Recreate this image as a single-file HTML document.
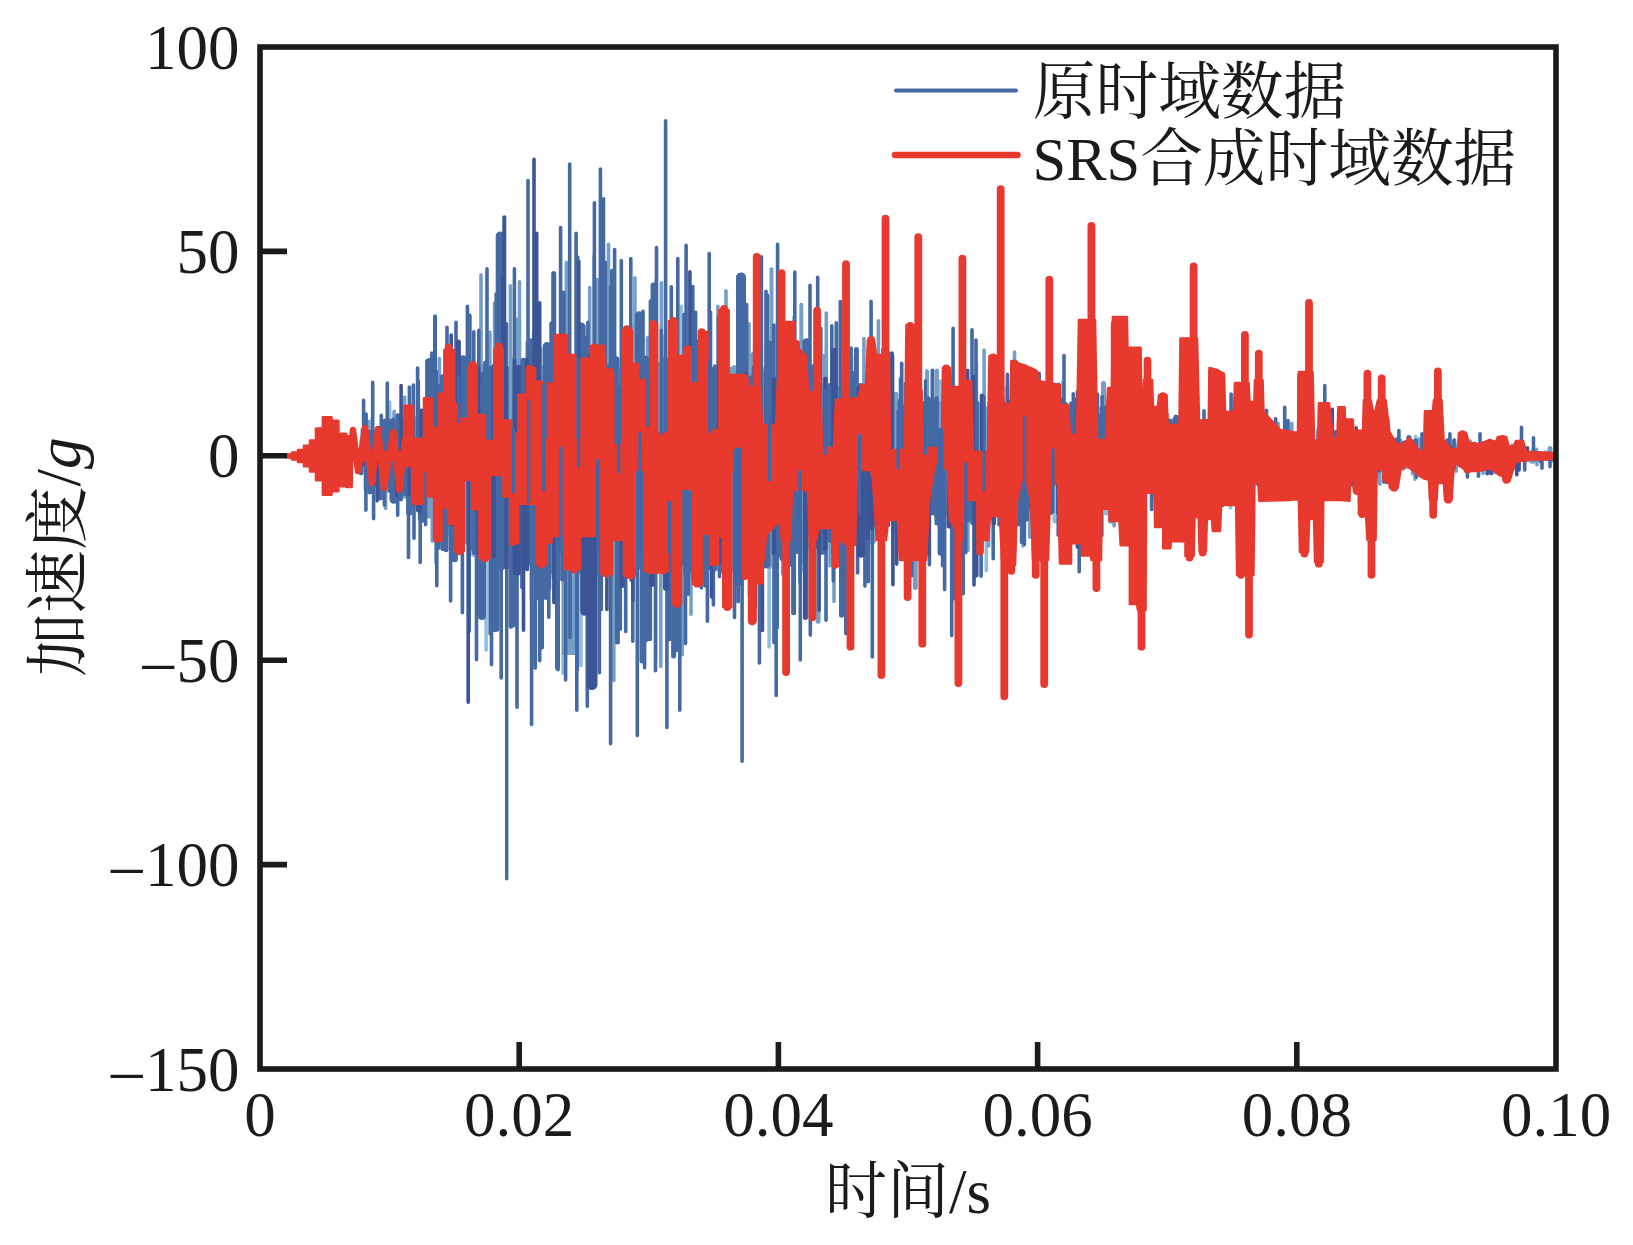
<!DOCTYPE html>
<html lang="zh">
<head>
<meta charset="utf-8">
<title>时域数据对比</title>
<style>
html,body{margin:0;padding:0;background:#fff;}
body{width:1633px;height:1245px;overflow:hidden;}
svg{display:block;}
</style>
</head>
<body>
<svg width="1633" height="1245" viewBox="0 0 1633 1245">
<rect width="1633" height="1245" fill="#fff"/>
<g id="blue">
<path d="M389.6 455.8V402.3M486.1 455.8V650.1M563 455.8V673.5M581 455.8V665.6M655.7 455.8V659.6M664.7 455.8V335.7M681.2 455.8V306.3M769.1 455.8V647M986.3 455.8V570.5M1006.5 455.8V386.5M1017.5 455.8V384.6M1034.6 455.8V544.1M1039.6 455.8V543.5M1062.6 455.8V382.3M1105.5 455.8V401M1162.2 455.8V511M1230.5 455.8V507.8M1330.6 455.8V429.2M1332.5 455.8V489.1M1344 455.8V437.3M1415.7 455.8V436.3M1423.9 455.8V441.9M1512.1 455.8V444.6" stroke="#8fbfe0" stroke-width="3.6" stroke-linecap="round" fill="none"/>
<path d="M380.9 429.5V488M401.2 422.1V492.2M432.2 399.7V507.3M454.9 381.1V535.5M633.8 367.6V576.6M809.9 381.2V547.3M813.6 373.7V556.3M844.8 386.9V543.4M883.8 401.3V528.3M892.3 399.6V519.3M963.9 406.4V515.5M1022.9 396.9V518.4M1054.6 409.4V521.4M1110.6 413.9V504.7M1126.7 418.2V501.9M1159.7 414.3V494.6M1167.5 415V497.8M1195.3 432.1V496.3M1295.4 433.9V474.8M1299 440V472.4M1323.8 434.3V477.7M1339.1 447.9V476.3M1352.1 436.9V469.7M1392 446.7V465.4M1412.3 448.1V459.3M1431.7 440.3V468.7M1482.3 447.5V463.3M1511.4 449.3V458.8" stroke="#8fbfe0" stroke-width="4.4" stroke-linecap="round" fill="none"/>
<path d="M372.8 455.8V487M622.9 455.8V357.9M1010.8 455.8V533.1M1106.4 455.8V513.3M1226.8 455.8V428.1" stroke="#8fbfe0" stroke-width="5" stroke-linecap="round" fill="none"/>
<path d="M1190.7 455.8V502.6M1286.7 455.8V487.1M1408.5 455.8V466.6" stroke="#8fbfe0" stroke-width="6.5" stroke-linecap="round" fill="none"/>
<path d="M474.2 455.8V552.9M723.6 455.8V569.6M802.5 455.8V568.6M940.4 455.8V383.6M1139.2 455.8V501.4" stroke="#8fbfe0" stroke-width="8.5" stroke-linecap="round" fill="none"/>
<path d="M362.2 455.8V429.5M368.6 455.8V421.2M385.6 455.8V508.4M394.1 455.8V411.3M404.7 455.8V397M429.3 455.8V516.2M432.3 455.8V541.3M435.9 455.8V562.4M439.4 455.8V358.6M477.9 455.8V612M481 455.8V274.8M482.7 455.8V365.4M489.9 455.8V332.1M494.6 455.8V303.1M510.4 455.8V285.7M519.5 455.8V281.8M531.5 455.8V599.8M540.5 455.8V348.8M566.4 455.8V262.2M589.7 455.8V287.6M608.5 455.8V244.4M613.8 455.8V680.5M634.5 455.8V325.6M634.9 455.8V277.8M656.2 455.8V279.9M660.8 455.8V666.4M661.4 455.8V282.7M676.8 455.8V361.7M678.1 455.8V615.1M682.2 455.8V654.7M691 455.8V614.2M717.9 455.8V306.2M726 455.8V290.7M749 455.8V323.8M749.5 455.8V596.2M757.5 455.8V315.5M782.6 455.8V574.2M794.1 455.8V317M805.9 455.8V587M824.6 455.8V355.2M826.3 455.8V313.1M830 455.8V565.9M834 455.8V601.5M841.1 455.8V373.9M855.5 455.8V357.2M863.9 455.8V338.6M878.4 455.8V320.7M914.9 455.8V395.4M967.9 455.8V550.6M976.4 455.8V363.6M984.1 455.8V350.1M988.6 455.8V546M1002.8 455.8V531.1M1014.5 455.8V352.1M1023 455.8V546M1041.8 455.8V552.4M1045.2 455.8V529.1M1089.4 455.8V390.4M1114.1 455.8V525.9M1114.3 455.8V400.7M1130.3 455.8V413M1135.7 455.8V399M1216.3 455.8V419.7M1219 455.8V509.1M1219.9 455.8V427.4M1240.2 455.8V485.1M1250.7 455.8V485M1275.5 455.8V491.8M1278.2 455.8V423.4M1282.8 455.8V499M1291.8 455.8V423.4M1311.1 455.8V488.9M1319.1 455.8V490M1323.1 455.8V439.1M1335.7 455.8V432.5M1364.2 455.8V475.7M1375.9 455.8V440.4M1379.8 455.8V484.2M1400.6 455.8V440.2M1415.1 455.8V479.3M1419.8 455.8V475.6M1428 455.8V442.3M1431.6 455.8V475.1M1449.3 455.8V442.7M1454.6 455.8V439.8M1483.1 455.8V473.5M1495.5 455.8V472.6M1502.4 455.8V462.5M1515.2 455.8V468.4M1519.6 455.8V446.3M1524.4 455.8V463M1536.6 455.8V449.4M1536.9 455.8V464.7M1553.4 455.8V453.7" stroke="#759fc7" stroke-width="3.6" stroke-linecap="round" fill="none"/>
<path d="M771.5 455.8V269.3M801.3 455.8V304.7M927 455.8V371M937 455.8V370.5M1456 455.8V471" stroke="#759fc7" stroke-width="4" stroke-linecap="round" fill="none"/>
<path d="M414 418.1V505.8M418.1 404.4V507.8M425.2 405.7V504.9M428.7 392.5V516.4M442.8 388.9V516.1M446.8 393.3V534.5M466.2 381V541.9M498.1 370.7V554.7M502.1 372.9V568.5M511 359.3V567.6M534.6 370.5V575.1M541.4 367.7V570.5M550.1 356.4V572.7M557.7 366V573.6M597.7 355.4V574.4M613.2 365.7V574.6M641.7 370.8V566.3M652.6 369.5V572M661 362.9V565.6M729.9 368.6V560.3M734.1 367.2V570.5M757.4 369.8V560.5M769.8 365.5V566.7M802 377.2V561.3M821.3 384.9V550M837.1 388.2V547M841.1 387.2V545.3M856.3 392.3V543.9M896.1 394V530.3M919.3 409V520.1M940.1 403.3V512M948.4 407.4V513.8M956.2 397.2V515.4M985.6 408.4V524.7M998.2 397V511.7M1014.4 408.4V523.4M1042.5 405.9V518.5M1046.2 405.8V510M1070.3 410.8V521.6M1119.3 417.9V499M1123.3 416.4V505.2M1147 417.5V491.3M1155.6 419.5V496.4M1163.2 417.5V490.3M1179.4 417.3V496.8M1190.8 432.8V484.5M1199.4 423.7V485.4M1207.7 422.8V489.5M1223.4 433.8V487.4M1235.4 430.6V475.3M1259.7 433.6V485.7M1270.9 441.2V478.6M1291.5 432.7V476.9M1307.1 436.6V468.6M1311.6 436.7V475.4M1360.4 445.5V467M1364.2 448.4V468.2M1371.6 435.9V465.8M1382.9 442.1V465M1419.3 439.4V470.7M1423.4 439.9V468.8M1435.6 449V457.5M1467.1 443.8V463.3M1478.5 448.4V461M1490.9 451.6V453.4M1495.1 448V464.6M1523.9 455.2V454.4M1532.8 455V455M1545 453.6V453.6" stroke="#759fc7" stroke-width="4.4" stroke-linecap="round" fill="none"/>
<path d="M518.6 455.8V319.3M534.3 455.8V333.5M597.4 455.8V280.2M648.2 455.8V338.1M818.1 455.8V621.3M899.2 455.8V535.3M915.3 455.8V587.4M916.1 455.8V558.7M924.3 455.8V526M960 455.8V534.2M993.1 455.8V397.5M1030.4 455.8V536.4M1103.5 455.8V383.6M1227 455.8V503.3M1235.2 455.8V486.9M1267 455.8V429.6M1294.6 455.8V437.9M1302 455.8V482.4M1348.5 455.8V476.9M1403.6 455.8V467.9M1413.3 455.8V473.2M1436.4 455.8V469M1438.8 455.8V445.7M1469.6 455.8V441.7M1482.7 455.8V443.7M1533.1 455.8V451.3M1545.3 455.8V453M1550 455.8V448.5M1553.3 455.8V460.3" stroke="#759fc7" stroke-width="5" stroke-linecap="round" fill="none"/>
<path d="M404.9 455.8V495.4M955.3 455.8V528.2M1039.4 455.8V401.1M1089.2 455.8V518.1M1110.1 455.8V407.6M1111.3 455.8V520.4M1143.3 455.8V507.8M1338.2 455.8V472M1360.8 455.8V436.9" stroke="#759fc7" stroke-width="6.5" stroke-linecap="round" fill="none"/>
<path d="M483.1 455.8V558.1M719.9 455.8V568.2M749.4 455.8V371.7M754.4 455.8V355.6M789.6 455.8V359.8M871.8 455.8V540.5M972.9 455.8V520.8M1074.3 455.8V520.3M1123.7 455.8V511.9M1171.7 455.8V501.2M1199.9 455.8V426.8M1291.1 455.8V439M1371.5 455.8V469.1M1419.5 455.8V447.4M1532.5 455.8V459.5" stroke="#759fc7" stroke-width="8.5" stroke-linecap="round" fill="none"/>
<path d="M569 455.8V655" stroke="#759fc7" stroke-width="14" stroke-linecap="butt" fill="none"/>
<path d="M506.7 455.8V878.8" stroke="#456aa3" stroke-width="3.4" stroke-linecap="round" fill="none"/>
<path d="M363.6 455.8V400.2M365.5 455.8V489.8M365.9 455.8V510.1M366.1 455.8V414.1M372.4 455.8V417.9M372.7 455.8V382.2M373.6 455.8V518.7M381.3 455.8V415.4M384.3 455.8V427.5M384.4 455.8V505.2M387.3 455.8V383.1M389.1 455.8V490.9M397.7 455.8V515.2M401.1 455.8V499.8M401.4 455.8V419.9M408.5 455.8V557.4M409.4 455.8V387M413.4 455.8V385M414 455.8V538.3M417.6 455.8V368M418.3 455.8V381.3M420.2 455.8V562.5M425.6 455.8V524.8M426.9 455.8V360.7M431.7 455.8V353M434.8 455.8V316.3M436.8 455.8V585.8M438.7 455.8V548.1M447 455.8V327.4M450.6 455.8V601M451.3 455.8V543.8M456 455.8V322.4M459.6 455.8V544.1M462.4 455.8V612.7M466.8 455.8V375.6M467.4 455.8V306.2M469.2 455.8V631.3M469.9 455.8V315.2M473.8 455.8V331.7M476.5 455.8V659.7M478.8 455.8V330.4M487 455.8V268.8M490.2 455.8V633.9M491.5 455.8V664.7M494.8 455.8V630.5M496.2 455.8V293.8M497.4 455.8V629.9M501.2 455.8V677.9M506.4 455.8V323.9M514 455.8V625.5M514.4 455.8V268.8M517 455.8V707.2M521.9 455.8V587.6M527.4 455.8V342.3M528 455.8V180.6M530.8 455.8V340M531.6 455.8V724.5M535.3 455.8V668.1M538.6 455.8V598.9M539.7 455.8V660.7M542.2 455.8V647.7M548.8 455.8V617.2M549.5 455.8V588.5M551.1 455.8V323.3M551.9 455.8V328.4M557.9 455.8V669.8M560.6 455.8V227.6M565.6 455.8V679.9M569.7 455.8V164M570 455.8V637.6M576.1 455.8V233.3M576.8 455.8V710.2M577.3 455.8V670.2M577.7 455.8V257.1M587.3 455.8V706.2M587.9 455.8V322.4M594.1 455.8V666.5M594.1 455.8V255.7M594.4 455.8V202.8M599.4 455.8V672.8M600.4 455.8V169.1M603.5 455.8V198.8M605.3 455.8V262.4M610.6 455.8V287.1M610.6 455.8V743.7M614.6 455.8V249.5M617.1 455.8V358M620.3 455.8V629.2M621.3 455.8V260.6M625.7 455.8V631.6M630.8 455.8V258.6M631.1 455.8V580.3M632.8 455.8V641.2M637.3 455.8V636.8M637.3 455.8V735.6M643 455.8V311.2M644.6 455.8V667.8M650.4 455.8V301.1M655.5 455.8V670.8M656.5 455.8V247.5M665.6 455.8V120.9M666.9 455.8V727.5M669.8 455.8V639.5M671.3 455.8V286.8M676.4 455.8V650.6M677.8 455.8V258.6M679.8 455.8V710.2M685.5 455.8V643.5M686.1 455.8V245.4M688.3 455.8V594.1M689.4 455.8V352.8M692.8 455.8V286.5M695.6 455.8V312.2M697.4 455.8V341.2M701.4 455.8V587.9M706.1 455.8V340.2M707.4 455.8V621.2M709.2 455.8V253.5M710.5 455.8V312.3M713.4 455.8V605M713.8 455.8V571.8M714.8 455.8V366M718.7 455.8V316.8M719.5 455.8V576.7M723.7 455.8V335.1M729.3 455.8V573M734.5 455.8V617.4M738.2 455.8V601.7M738.2 455.8V290.1M742.1 455.8V761.2M746.6 455.8V304.5M759.4 455.8V663M760.5 455.8V310.9M761.4 455.8V256.8M766 455.8V291.2M767.5 455.8V295.4M773.6 455.8V325.1M774 455.8V642.6M776.2 455.8V695.4M777.2 455.8V627.9M777.4 455.8V321.4M777.6 455.8V244.4M794.8 455.8V272.1M800.3 455.8V659.9M809.6 455.8V374.5M810 455.8V285.3M810.3 455.8V635.1M817.7 455.8V277.2M820.8 455.8V328.3M826 455.8V620.2M831.8 455.8V325.8M833.3 455.8V581M836.3 455.8V322.9M840.3 455.8V301.5M845.1 455.8V379.2M845.4 455.8V599.1M845.8 455.8V633.6M848.4 455.8V583.3M849.5 455.8V383.4M851.1 455.8V348.1M852.2 455.8V580M853.2 455.8V373.1M856.9 455.8V544.3M857.6 455.8V572.9M864.9 455.8V586.1M868.2 455.8V581.7M871.1 455.8V301.5M872.3 455.8V656.9M872.8 455.8V339.4M880.1 455.8V595.6M882.9 455.8V349.5M892.6 455.8V355.9M900.5 455.8V378.8M901.7 455.8V363.3M911.7 455.8V575.8M918.5 455.8V556.4M927.3 455.8V400M929.4 455.8V564.8M942.6 455.8V565.8M943.6 455.8V393.3M944.6 455.8V589.6M949.1 455.8V375.1M951.7 455.8V635.6M952.8 455.8V398.1M953.1 455.8V328.2M960.3 455.8V396.2M963.2 455.8V593.8M963.9 455.8V367.4M972 455.8V329.8M976 455.8V340M981.1 455.8V576.2M989.8 455.8V366.1M993.2 455.8V558.7M999.1 455.8V524.8M1007.4 455.8V374.4M1014.6 455.8V550.7M1021.6 455.8V542.5M1026.5 455.8V519.7M1039.2 455.8V373.4M1045.8 455.8V397.8M1053.6 455.8V394.9M1058.2 455.8V535.3M1058.7 455.8V384.4M1064 455.8V355.6M1066.1 455.8V403.9M1070.9 455.8V403.3M1073.3 455.8V393.7M1076.2 455.8V401.1M1079.2 455.8V571.8M1084.3 455.8V390.9M1093.7 455.8V516.9M1097.5 455.8V394.1M1097.8 455.8V536.2M1101.8 455.8V535.6M1102.1 455.8V396.5M1126.1 455.8V398.3M1131.1 455.8V520.9M1147 455.8V410M1150.9 455.8V415.7M1151.6 455.8V509.4M1155.8 455.8V523.4M1156.5 455.8V407.7M1159.5 455.8V515.9M1170.7 455.8V420.6M1176.6 455.8V507.8M1179.3 455.8V495M1195.7 455.8V411.5M1204 455.8V410.8M1216 455.8V505.7M1222.6 455.8V505.5M1231.1 455.8V394M1235.8 455.8V420.1M1242.4 455.8V423.8M1251.7 455.8V427M1266.5 455.8V410.2M1268 455.8V498.9M1270.4 455.8V431.4M1275.6 455.8V418.5M1284.7 455.8V407.2M1288 455.8V420.6M1302.7 455.8V424.6M1306.5 455.8V491.8M1316.2 455.8V492.8M1324.8 455.8V385.5M1327.6 455.8V489.7M1352.7 455.8V485.8M1352.9 455.8V481.4M1365.2 455.8V436.6M1368.6 455.8V432M1371.1 455.8V437.6M1376 455.8V477.7M1379.5 455.8V433.6M1379.7 455.8V471M1383.8 455.8V482.1M1387.8 455.8V419.4M1395.4 455.8V469.1M1398.9 455.8V430.5M1403.5 455.8V442.9M1416.4 455.8V477.1M1422 455.8V433.8M1423.8 455.8V475.1M1428.1 455.8V475.8M1436.5 455.8V438.4M1442.5 455.8V478.3M1446.9 455.8V466.3M1447.2 455.8V440.1M1449.9 455.8V433.8M1453.9 455.8V440.3M1453.9 455.8V468.2M1459.1 455.8V446.7M1459.5 455.8V465.4M1464 455.8V446.8M1466.2 455.8V447.6M1467.4 455.8V477.1M1469.9 455.8V469.6M1478.5 455.8V476.2M1479.2 455.8V470.9M1480 455.8V433.8M1489.7 455.8V473.2M1506.7 455.8V448.5M1510.6 455.8V461.2M1521.5 455.8V427.3M1524.7 455.8V469.9M1533.5 455.8V437.7M1540.4 455.8V459.1M1542 455.8V468.2M1550 455.8V466.7" stroke="#456aa3" stroke-width="3.6" stroke-linecap="round" fill="none"/>
<path d="M932.5 455.8V370.5" stroke="#456aa3" stroke-width="4" stroke-linecap="round" fill="none"/>
<path d="M365.9 441.8V470.2M369.5 432V482.8M373.2 434.8V478.6M376.8 430.6V485M385.1 420.8V483.8M388.8 421V484.9M393.2 419.8V484.4M397.6 430.2V492.7M405.2 425.4V493.9M439.3 385.9V522M458.7 374V537.4M462.4 371V547.7M469.6 380V549.7M474.1 375.2V553M482.4 373.7V554.2M486.6 367.2V553.3M490.4 367.6V551M522.7 360.9V564.3M531 356.1V563.5M538 366.1V574.1M545.9 364.2V567.2M553.9 361V577.9M562.3 368.5V579.4M566 356.6V568.1M569.5 367.2V565.9M573.2 369.8V569.2M577.4 368.7V574M581.6 369.3V570.3M585.4 367.5V570.6M594.2 370.1V582.3M601.6 354.8V575.3M606 366.4V568.2M609.7 365.7V572.4M617.3 359.6V572M621.9 368.6V582.5M626.2 368.1V577.1M630.1 357.6V570.1M638.2 357.9V567.1M645.4 358.2V578.3M649.2 359.9V580.6M656.4 363.2V567.3M665.4 358.2V568M669.6 360.6V570.6M673.8 362.6V571.1M677.6 361.4V576.8M681.8 368.2V564.1M685.5 369V573.3M689.1 360V571.4M693.3 361.6V577.1M697.6 361.9V568.9M702.1 365.7V573M706.3 357.3V561.7M710.7 368.9V568.1M714.8 367.8V568.5M722.7 372.9V570.7M738.1 369.3V564.6M741.5 363.9V565.5M750.3 377.8V556.1M753.9 368V560.7M761.4 368V559.9M766 372V561.6M777.9 375.6V554.9M781.6 370V558.6M789.8 368.9V564.9M793.7 374.8V560.6M798 380.2V552M806 369.4V555.5M829.8 385.1V540.6M833.5 383.3V552M848.8 392.8V537.9M852.5 382.6V539.3M860.6 385.1V540.5M864.2 395.7V544.6M879.7 390.9V530.5M888.1 400.9V525M899.9 400.8V527.1M904.2 406.6V517.3M907.7 409.7V525.3M911.9 405V519.9M915.6 407.5V517.4M923.7 403.3V521.4M928.3 398.4V512.5M932.8 405.7V513.2M936.6 398.2V523.2M943.9 404V523.6M952.3 400.1V524.3M960.4 398.1V518.6M968.4 398.3V519.8M972.8 406.6V522.7M977.3 403.3V515.9M989.6 403.3V518.5M1002.1 408.7V518M1006.5 404.4V525.2M1010.2 402.1V519.5M1018.4 402.4V524.3M1027 404.7V519.2M1030.9 405V508.9M1034.5 396.6V508.9M1050.8 402V512.9M1061.8 400V514M1066 408.9V508.1M1074.2 399.3V514M1078 400.5V504.4M1081.6 407.8V511.6M1085.2 404V507.2M1089.7 407.9V511.8M1097.7 416.3V506.6M1101.7 408.4V506.4M1106 407.4V504.5M1115 405.5V508.3M1131 419.1V494.2M1138.7 410.7V504.7M1142.8 413.1V499.7M1151.4 420V492.3M1171.7 429.3V495.9M1175.9 416.7V496.1M1182.9 421V492.5M1187.4 424.6V485.8M1203.5 428.4V485.7M1212 422.5V486.2M1216.2 436.1V485.8M1219.6 432.4V492.3M1239.5 424.6V479.5M1243.3 431.3V488.7M1246.8 426.5V484M1255.4 433.2V482.2M1263.8 430.9V473.6M1275.2 442.7V478.9M1283 432.2V475.6M1287.4 431.1V467.9M1302.6 445.2V471.4M1315.6 446.6V477.2M1319.4 438.9V478.5M1327.4 442.6V465.1M1335.6 432.2V466.5M1343.6 436.9V467.5M1347.9 439.3V467.1M1356.3 438.6V471.6M1367.8 436.8V473.5M1375.9 436.9V470.6M1379.5 446.3V463.8M1396.2 447.6V464.5M1408.2 444.7V464M1415.8 440.5V463.9M1427.3 451.5V470.9M1446.7 446.5V460.3M1454.6 453.3V462.2M1458.6 445.4V457.4M1463 448.9V465M1470.6 452.4V463M1474.1 443.6V456.9M1486.7 454V462M1503 448.8V456.3M1506.9 451.2V455M1528.2 456.5V454.2M1536.6 458.6V458.6M1540.7 461.2V461.2M1549.2 458.4V456.2M1552.7 455.2V458.3" stroke="#456aa3" stroke-width="4.4" stroke-linecap="round" fill="none"/>
<path d="M361.1 455.8V472.8M369.8 455.8V492.1M380.4 455.8V498M397.9 455.8V415.7M429 455.8V360.4M442.8 455.8V548.5M446.1 455.8V549.7M485.6 455.8V363M511 455.8V626.2M553.7 455.8V273.5M557.5 455.8V667.7M563.2 455.8V293.1M600.6 455.8V608.9M612.5 455.8V271.3M617.4 455.8V642M642 455.8V661M645.8 455.8V358.1M645.8 455.8V639.8M649.6 455.8V638.7M653.1 455.8V285M673.6 455.8V656.1M684.7 455.8V315.1M705.6 455.8V585.3M785.8 455.8V361.4M793.6 455.8V612.8M797.9 455.8V366.2M802.8 455.8V374.8M813.5 455.8V366.4M841.5 455.8V615.2M856.4 455.8V349.4M888.3 455.8V353.5M911.8 455.8V371.3M953 455.8V597.9M955.4 455.8V398M1050.9 455.8V394.9M1095.1 455.8V403.7M1160.4 455.8V419.1M1168.4 455.8V421M1183.2 455.8V422.7M1188.2 455.8V503.4M1196.2 455.8V503M1318.8 455.8V430.4M1367.1 455.8V482.9M1387.3 455.8V443.4M1392 455.8V443.7M1396.8 455.8V439.8M1408.9 455.8V437.6M1431 455.8V446.3M1495 455.8V443.4M1540.1 455.8V453.4" stroke="#456aa3" stroke-width="5" stroke-linecap="round" fill="none"/>
<path d="M409.3 455.8V512.5M435 455.8V372.3M443 455.8V377.5M454.7 455.8V558.9M523.7 455.8V361M546.3 455.8V596.7M572.8 455.8V363.9M585.4 455.8V339.1M906.9 455.8V384.7M1026.6 455.8V393.2M1135.2 455.8V502.3M1187.2 455.8V416M1199.6 455.8V501.6M1207.8 455.8V421.9M1271.2 455.8V490.2M1278.5 455.8V478.7M1299 455.8V476.3M1324.3 455.8V477M1357.3 455.8V474.6M1463.7 455.8V463.8M1545 455.8V457.4" stroke="#456aa3" stroke-width="6.5" stroke-linecap="round" fill="none"/>
<path d="M482 455.8V616" stroke="#456aa3" stroke-width="8" stroke-linecap="round" fill="none"/>
<path d="M375.9 455.8V433.8M393.7 455.8V499.5M422.1 455.8V518.6M463.1 455.8V359.5M501.8 455.8V565.4M546.9 455.8V346.2M569.1 455.8V363.2M581.4 455.8V326.8M639.1 455.8V315.5M766.1 455.8V564.3M768.8 455.8V344.5M782.6 455.8V364M806.6 455.8V342.4M821.8 455.8V550.5M879.1 455.8V379.8M908.6 455.8V530.1M932.8 455.8V402.3M1033.7 455.8V398M1119.1 455.8V412.1M1176.5 455.8V419.7M1223.5 455.8V426.3M1259.6 455.8V482.4M1311.4 455.8V440.8M1338.4 455.8V442M1383.1 455.8V441.7M1412.5 455.8V443.7M1451.1 455.8V466.5M1466.4 455.8V463.7M1548.5 455.8V456.8" stroke="#456aa3" stroke-width="8.5" stroke-linecap="round" fill="none"/>
<path d="M500.2 455.8V236" stroke="#456aa3" stroke-width="9" stroke-linecap="round" fill="none"/>
<path d="M741 455.8V277.4" stroke="#456aa3" stroke-width="10" stroke-linecap="round" fill="none"/>
<path d="M377.2 455.8V500.8M396.9 455.8V495.1M401.1 455.8V385.6M451.2 455.8V335.1M468.2 455.8V702.2M503 455.8V276.8M514.6 455.8V360.6M523.5 455.8V630.2M534 455.8V159.4M536.7 455.8V233.3M539.7 455.8V302.8M553.9 455.8V602.6M578.8 455.8V261.6M606.9 455.8V609.5M632.9 455.8V600.4M673.7 455.8V326.1M689.9 455.8V271.8M701.7 455.8V362.8M711.5 455.8V597M741.9 455.8V566.9M762.4 455.8V630.4M816.8 455.8V316M819.1 455.8V610.3M892 455.8V353.1M892.9 455.8V584.7M896.7 455.8V564.1M918.6 455.8V384.5M929 455.8V555.3M941 455.8V529.7M967.7 455.8V370.4M973.4 455.8V376.4M974 455.8V585M976.8 455.8V575.7M993.8 455.8V521.3M997.5 455.8V397.4M1015.2 455.8V384.3M1023.7 455.8V389.7M1077.4 455.8V546.9M1077.6 455.8V391.2M1082 455.8V514.9M1086 455.8V513.4M1163.1 455.8V419.5M1168.4 455.8V503.4M1208.4 455.8V501.9M1231.5 455.8V428.6M1246.5 455.8V423.8M1255.8 455.8V426.6M1306.2 455.8V426.9M1332.3 455.8V409.2M1352.7 455.8V431.4M1356.2 455.8V427.9M1359.9 455.8V483.8M1386.7 455.8V482.4M1487.2 455.8V473.8M1490.4 455.8V444.1M1491.7 455.8V473.6M1507.7 455.8V462.8M1516.8 455.8V474.7M1519.1 455.8V470M1527.5 455.8V447.7" stroke="#3b5596" stroke-width="3.6" stroke-linecap="round" fill="none"/>
<path d="M504.3 455.8V217.3" stroke="#3b5596" stroke-width="4" stroke-linecap="round" fill="none"/>
<path d="M362 439.3V464.2M409.6 418.1V494M421.6 410.6V502.7M435.7 397.6V522.9M450.3 381.2V524.3M478.2 368.3V553.2M493.8 366.1V556.1M506.5 367.6V567.4M514.9 367.9V573.1M518.7 367V573.3M527 360V569M589.9 355.1V567.5M719.3 361.2V562.6M726.4 360.8V568.3M745.8 374.2V556.1M773.9 379.4V553.3M785.9 372V552.8M817.1 383.9V546.6M825.4 378.8V549.2M867.6 386.2V538M871.9 393.4V527.9M876 394.8V524.9M981.9 395.6V521.5M993.9 399.4V523.3M1038.7 410.7V515.1M1058.3 404.6V512.9M1094.3 402.7V511.8M1135 416.7V507.6M1227.8 423.9V490.7M1231.4 431.3V480M1251.1 438.6V485M1267.3 429.4V485.2M1278.9 432.9V480.7M1331.6 432.1V465.4M1387.5 446.6V464.8M1400.5 445.1V458.6M1404.1 442.8V458.4M1439.3 442.8V460.3M1442.9 453.4V455.7M1450.2 447.2V456.3M1499.1 446.8V456.7M1515.5 453.9V462.2M1519.9 454.4V454.4" stroke="#3b5596" stroke-width="4.4" stroke-linecap="round" fill="none"/>
<path d="M458.4 455.8V342.1M622.1 455.8V585.4M651.8 455.8V584.5M754.6 455.8V607.3M805.4 455.8V617.4M949 455.8V525.9M1009.6 455.8V402.7M1043 455.8V402.6M1082.3 455.8V388.3M1503.7 455.8V450.5M1527.6 455.8V459.2" stroke="#3b5596" stroke-width="5" stroke-linecap="round" fill="none"/>
<path d="M419.1 455.8V509.5M666.1 455.8V587.6M697.1 455.8V573.2M834.2 455.8V351.3M1062.6 455.8V528M1191.1 455.8V426.7" stroke="#3b5596" stroke-width="6.5" stroke-linecap="round" fill="none"/>
<path d="M584.5 455.8V611.6M860.8 455.8V553.4M861 455.8V388.8M1245.9 455.8V483.1M1264 455.8V431.8" stroke="#3b5596" stroke-width="8.5" stroke-linecap="round" fill="none"/>
<path d="M592 455.8V684.5" stroke="#3b5596" stroke-width="11" stroke-linecap="round" fill="none"/>
</g>
<g id="red">
<polygon points="286.8,455.8 286.8,454.6 292,454.6 292,452.6 298,452.6 298,450 304,450 304,445.7 310,445.7 310,440.6 316,440.6 316,428.5 322.9,428.5 322.9,417.3 331.5,417.3 331.5,420.8 338.4,420.8 338.4,436.3 340.9,436.3 340.9,433.7 346.1,433.7 346.1,436.3 351.6,436.3 352,452 404,452 404.6,405.8 413,405.8 413,439 424,439 424,398.4 432.3,398.4 432.3,426 438.8,426 438.8,393.8 444.4,393.8 444.4,350 453.6,350 453.6,404 459,404 459,418.7 468.4,418.7 468.4,366 476.7,366 476.7,415 485,415 485,441 494.3,441 494.3,349 502.6,349 502.6,420.6 511,420.6 511,433.5 518.3,433.5 518.3,394.7 527.5,394.7 527.5,368 535,368 535,381.8 542.3,381.8 542.3,440 548,440 548,383.6 555,383.6 555,335 567,335 567,355 575,355 575,440 581.5,440 581.5,358.9 590.8,358.9 590.8,346 604,346 604,369.5 612,369.5 612,445 622.6,445 622.6,330 631.8,330 631.8,364 638,364 638,380 645,380 645,420 650.4,420 650.4,325 657,325 657,433 669,433 669,321 677,321 677,356 687.5,356 687.5,347 694,347 694,382.7 699.4,382.7 699.4,332 707.4,332 707.4,430.4 719.3,430.4 719.3,310 728.6,310 728.6,375 730,375 730,375 746,375 750,388 760,388 762,425 776,425 778,380 786,322 794,322 795,345 806,356 808,392 820.5,392 822,448 834,448 836,400 859,398 861,385 866,385 868,340 874,340 876,355 889,355 890,450 905,450 906.5,325 914,325 915,390 921.5,390 923,448 942,448 943,368 950,368 951,387 966,387 967,381 971,381 973,452 988,452 989.5,356 997,356 1004,404 1010.5,404 1011.5,361 1020,364 1033,369 1038,381 1060,385 1060,405 1068,405 1070,435 1077,435 1079,320 1095,320 1097,440 1106,440 1108,388 1112,388 1113,317 1126.8,317 1127.5,347.7 1140.5,347.7 1141.5,412 1143,412 1144,380 1152,380 1153,407 1158,407 1159,395 1166.5,395 1167.5,425 1179.5,425 1180.5,338.6 1197,338.6 1199,420.6 1208.8,420.6 1209.5,368 1217,370 1224,374 1225,412 1234,412 1235,383 1248.5,383 1249.5,402 1254.4,402 1255,380 1262.5,380 1263.5,412 1280,430 1298,433 1299,372 1312.5,372 1314,440.8 1318,440.8 1319,403.4 1329,403.4 1333,438.8 1337.4,438.8 1338.4,407.4 1344.5,407.4 1345,419.6 1352.6,419.6 1353.6,430.7 1362.7,430.7 1363,432 1364,400 1370.5,400 1374.2,416.8 1378,400 1385.5,400 1389.4,432 1395,441.5 1400,446 1410,438.3 1419.6,451 1424,451 1425,411.2 1433,411.2 1434,400 1441.5,400 1443.5,439.9 1451.5,449.4 1458,449 1459,433 1466,433 1469,443 1480,444 1489.7,439.9 1496,442 1498,437 1506,437 1508.8,446.2 1514,446 1516,441 1523,441 1526.3,452 1540,452.6 1553.4,453 1553.4,459 1540,459.4 1526,460 1515.2,462.2 1509.5,481 1504,481 1503,476 1499.2,474.9 1496,472 1490,468 1480,471 1467.4,471 1453.9,462.2 1451.5,500 1445,500 1444,482.9 1437.5,482.9 1436.5,500 1430,500 1429,479.7 1423,478 1416.4,473.3 1406.9,465.4 1400.5,470 1397.5,488 1390,488 1389,480 1384,480 1383,470 1376.6,468.5 1375.5,540 1367.5,540 1366,514 1359,514 1358.5,480.5 1350,480.5 1349.5,500.7 1340.4,500 1323.2,500 1322.6,562 1315.1,562 1314.1,519 1309,519 1308,552 1300,552 1298.9,495 1290,500 1259.4,500.7 1258.4,482.5 1254.4,482.5 1253.4,575 1237.2,575 1236.2,505 1221,505 1220,531 1212.9,531 1212,519 1206.8,519 1205.8,551 1199.7,551 1198.7,517 1194.5,517 1193.6,556 1185.5,556 1185.5,541.2 1170.3,541.2 1170.3,548.3 1163.3,548.3 1163.3,527 1155.2,527 1154.5,492.6 1146,492.6 1145.5,610 1138,610 1137,604 1129.9,604 1129.9,545.3 1120.7,545.3 1119.5,521 1109.6,521 1109.6,508.8 1101.5,508.8 1101,560 1091.5,560 1091,555.4 1082,555.4 1082,543.3 1071,543.3 1071,563.5 1060,563.5 1059,520 1058,480 1050,490 1048,560 1033,560 1031,500 1024,470 1017,500 1015,565 1002,560 1000,516 990,516 988,540 980,540 978,500 964,500 962,540 950,520 948,470 935,462 929,500 926,560 900,560 898,520 888,520 886,540 877,540 873,480 871,470 857,470 855,545 847,545 840,540 835,528 819,528 816,540 810,540 808,490 792,490 790,540 782,540 780,520 766,535 764,560 742,560 740,470 733,470 733,470 731.2,470 731.2,607 723.3,607 723.3,536.4 718,536.4 718,564 711.3,564 711.3,533.8 702,533.8 702,584 692.8,584 692.8,488.7 681,488.7 681,604 673,604 673,502 667.6,502 667.6,570.9 645,570.9 645,470 634.5,470 634.5,576 624,576 624,540 612,540 612,574 601.4,574 601.4,465 594.7,465 594.7,536 580.2,536 580.2,569 564.3,569 564.3,536 555,536 555,536 551.5,536 551.5,542.6 546,542.6 546,564 536.8,564 536.8,503.8 518.3,503.8 518.3,543 511,543 511,496.4 503.5,496.4 503.5,475 489.6,475 489.6,558 479.5,558 479.5,509.3 472,509.3 472,479.7 463.8,479.7 463.8,551 455.5,551 455.5,524 449,524 449,507.5 441.6,507.5 441.6,540 434.2,540 434.2,496.4 427.7,496.4 427.7,470.5 423,470.5 423,503.8 413.9,503.8 413.9,466 404.6,466 404,460 352,460 351.6,487 346.1,487 346.1,486.1 340.9,486.1 340.9,480.9 338.4,480.9 338.4,491.3 331.5,491.3 331.5,494.7 322.9,494.7 322.9,480.1 316,480.1 316,471.5 310,471.5 310,466.3 304,466.3 304,462 298,462 298,459.5 292,459.5 292,457.4 286.8,457.4 286.8,455.8" fill="#e8392e" stroke="#e8392e" stroke-width="2.6" stroke-linejoin="round"/>
<polyline points="351,452 353,430 358,471 361,455 365,428 372,483 378,429 384,488 393.4,432 399.4,490 405,440" fill="none" stroke="#e8392e" stroke-width="6.5" stroke-linejoin="round" stroke-linecap="round"/>
<path d="M796.5 455.8V343.5" stroke="#e8392e" stroke-width="7" stroke-linecap="round" fill="none"/>
<path d="M409.7 455.8V410.1M414.8 455.8V501.1M428.6 455.8V402.3M437.2 455.8V538.9M448.6 455.8V347.4M451 455.8V518.1M459.7 455.8V551.3M473 455.8V364.9M476.7 455.8V504.5M484.6 455.8V558.4M498.8 455.8V346.4M512.8 455.8V542.1M529.6 455.8V368.7M541.7 455.8V564.4M572 455.8V358.6M574.1 455.8V569.5M586 455.8V362.6M594.4 455.8V347.4M602.5 455.8V358.6M606.5 455.8V573.6M610.6 455.8V374.8M626.8 455.8V329.2M630.8 455.8V575.6M634.9 455.8V366.7M643 455.8V384.9M651 455.8V570.5M653 455.8V323.9M657 455.8V570.1M663 455.8V570.5M673.3 455.8V320.9M677 455.8V603.9M687.5 455.8V349.5M697.2 455.8V583.7M701.7 455.8V332.2M712.8 455.8V562.4M724 455.8V308.9M727.4 455.8V607M756.7 455.8V257M781.6 455.8V273.2M786.1 455.8V672M802.9 455.8V358.3M812.4 455.8V617.3M817.1 455.8V310.7M835.3 455.8V564.7M846 455.8V264.1M850.5 455.8V646.7M871.1 455.8V340M881.4 455.8V675M885.5 455.8V218.6M907.6 455.8V597.1M910.2 455.8V325.9M918.3 455.8V237.2M922.3 455.8V643.7M946.2 455.8V368.4M958.4 455.8V683.1M962.4 455.8V258.7M980 455.8V551.5M993.2 455.8V357.3M1000.7 455.8V189.2M1004.3 455.8V696.3M1011.4 455.8V570.8M1014.5 455.8V363.3M1035.7 455.8V574.8M1044.2 455.8V684.1M1049.3 455.8V279.7M1083.3 455.8V323.2M1091.4 455.8V226M1096.4 455.8V588M1114.7 455.8V323.9M1122 455.8V321.2M1131 455.8V350.9M1133.4 455.8V600.1M1137 455.8V351.6M1141.5 455.8V646.7M1147.5 455.8V360.7M1162.9 455.8V396.1M1185.5 455.8V342.5M1189.5 455.8V557.6M1193.6 455.8V266.5M1202.7 455.8V552.5M1212.3 455.8V371.8M1216.4 455.8V527.1M1220.6 455.8V377.9M1238.2 455.8V386.9M1241 455.8V574.8M1244.9 455.8V334.8M1249 455.8V634.5M1258.8 455.8V353.6M1301 455.8V375.9M1304.5 455.8V553.5M1309 455.8V303M1318.8 455.8V563.7M1322.6 455.8V407.3M1341 455.8V411.3M1349.5 455.8V423.5M1362.3 455.8V514M1367.4 455.8V373.7M1371.5 455.8V574.8M1381.7 455.8V378.5M1386.2 455.8V479M1394.1 455.8V487.7M1426 455.8V475.8M1429.2 455.8V415.1M1433.2 455.8V514.8M1437.9 455.8V371.3M1440.3 455.8V479M1448.3 455.8V499.7M1462.6 455.8V434.2M1467.4 455.8V469.4M1499.2 455.8V471M1502.4 455.8V439M1506.4 455.8V479.8M1520 455.8V443.8" stroke="#e8392e" stroke-width="7.8" stroke-linecap="round" fill="none"/>
<path d="M745 455.8V576M760 455.8V581M1087 455.8V551.4M1159 455.8V523M1168 455.8V544.3" stroke="#e8392e" stroke-width="8" stroke-linecap="round" fill="none"/>
<path d="M752.3 455.8V620.8M789.7 455.8V326.5M1114 455.8V516.5M1125 455.8V540.8M1345 455.8V495.5M1357 455.8V490.5" stroke="#e8392e" stroke-width="9" stroke-linecap="round" fill="none"/>
<path d="M1024 455.8V369M1033.7 455.8V373.5" stroke="#e8392e" stroke-width="10" stroke-linecap="round" fill="none"/>
<path d="M1065.5 455.8V558M1076.5 455.8V537.8" stroke="#e8392e" stroke-width="11" stroke-linecap="round" fill="none"/>
<path d="M560 455.8V335" stroke="#e8392e" stroke-width="13" stroke-linecap="butt" fill="none"/>
<path d="M1178 455.8V541.2" stroke="#e8392e" stroke-width="14" stroke-linecap="butt" fill="none"/>
<path d="M1279 455.8V500.7" stroke="#e8392e" stroke-width="40" stroke-linecap="butt" fill="none"/>
</g>
<g id="slits">
<path d="M435.4 316V425.5M458.7 377V421.5M513.4 429.6V492M528.6 401V502M543.8 385V490M561 448V552M578.6 358.7V466M598 460V552M618.7 387V472M640 433.6V552M648 381V425.5M661.2 330V433.6M669.3 502V552M693.6 334V381M709.8 360.7V431.6M769.5 417V480M825.2 390.7V453.5M859.6 435V512M898 411V467.7M925.4 380.6V453.5M965.9 463.6V552.7M984.1 396.8V490M1024.6 417V544.6M1052.9 449.5V512M799.9 471.7V582" stroke="#3f68a8" stroke-width="3.2" stroke-linecap="round" fill="none"/>
<path d="M940.6 431V552.7" stroke="#3f68a8" stroke-width="6" stroke-linecap="round" fill="none"/>
<path d="M738 451.5V582" stroke="#3f68a8" stroke-width="8" stroke-linecap="round" fill="none"/>
</g>
<g id="axes" stroke="#1c1a1b" stroke-width="5.6" fill="none">
<rect x="260" y="47" width="1296" height="1022"/>
<path d="M260 251.4H287M260 455.8H287M260 660.2H287M260 864.6H287M519.2 1069V1042M778.4 1069V1042M1037.6 1069V1042M1296.8 1069V1042"/>
</g>
<g id="labels" fill="#1c1a1b" font-family="'Liberation Serif', 'Noto Serif CJK SC', serif" font-size="63">
<text x="239.5" y="68.5" text-anchor="end">100</text>
<text x="239.5" y="272.9" text-anchor="end">50</text>
<text x="239.5" y="477.3" text-anchor="end">0</text>
<text x="239.5" y="681.7" text-anchor="end">–<tspan dx="2.5">50</tspan></text>
<text x="239.5" y="886.1" text-anchor="end">–<tspan dx="2.5">100</tspan></text>
<text x="239.5" y="1090.5" text-anchor="end">–<tspan dx="2.5">150</tspan></text>
<text x="260" y="1135.5" text-anchor="middle">0</text>
<text x="519.2" y="1135.5" text-anchor="middle">0.02</text>
<text x="778.4" y="1135.5" text-anchor="middle">0.04</text>
<text x="1037.6" y="1135.5" text-anchor="middle">0.06</text>
<text x="1296.8" y="1135.5" text-anchor="middle">0.08</text>
<text x="1556" y="1135.5" text-anchor="middle">0.10</text>
<text x="908" y="1212.5" text-anchor="middle"><tspan font-size="62">时间</tspan>/s</text>
<text transform="translate(80 557) rotate(-90)" text-anchor="middle"><tspan font-size="63.3">加速度</tspan>/<tspan font-style="italic">g</tspan></text>
<text x="1032.8" y="113"><tspan font-size="62.7">原时域数据</tspan></text>
<text x="1032.5" y="179.5"><tspan font-size="60.5">SRS</tspan><tspan font-size="62.7">合成时域数据</tspan></text>
</g>
<path d="M896 90.4H1016" stroke="#456aa3" stroke-width="4" stroke-linecap="round"/>
<path d="M895 155.1H1017.5" stroke="#e8392e" stroke-width="6.5" stroke-linecap="round"/>
</svg>
</body>
</html>
